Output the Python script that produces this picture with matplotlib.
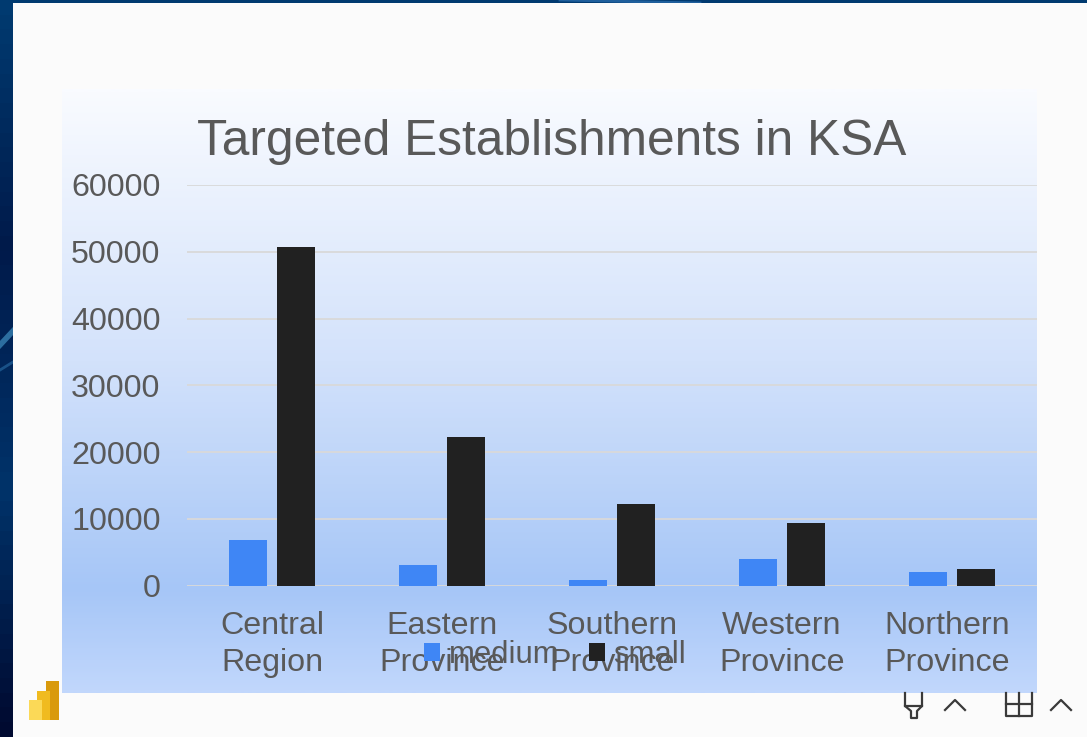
import numpy as np
import matplotlib
matplotlib.use('Agg')
import matplotlib.pyplot as plt
from matplotlib.patches import Rectangle
from matplotlib.colors import LinearSegmentedColormap
from matplotlib.transforms import ScaledTranslation

categories = ['Central\nRegion', 'Eastern\nProvince', 'Southern\nProvince', 'Western\nProvince', 'Northern\nProvince']
medium = [6800, 3100, 800, 4000, 2000]
small = [50700, 22250, 12200, 9400, 2500]
yticks = [0, 10000, 20000, 30000, 40000, 50000, 60000]
title = 'Targeted Establishments in KSA'

W, H = 1087, 737
plt.rcParams['font.family'] = ['Liberation Sans', 'DejaVu Sans']
grey = '#595959'

fig = plt.figure(figsize=(W/100, H/100), dpi=100)

# fond : tout en pixels
bg = fig.add_axes([0, 0, 1, 1])
bg.axis('off')

dark = LinearSegmentedColormap.from_list('dark', ['#003a70', '#001a4a', '#00336a', '#000a30'])
bg.imshow(np.linspace(0, 1, 50).reshape(-1, 1), extent=[0, W, H, 0], cmap=dark, aspect='auto', zorder=0)
bg.plot([0, 13], [345, 331], color='#3f8fc0', lw=4, alpha=0.7, zorder=1)
bg.plot([0, 13], [370, 362], color='#2a70a8', lw=2, alpha=0.6, zorder=1)
bg.plot([560, 700], [0, 3], color='#2d6fb0', lw=2, alpha=0.7, zorder=1)
bg.add_patch(Rectangle((13, 3), W-13, H-3, color='#fbfbfb', lw=0, zorder=2))

panel = LinearSegmentedColormap.from_list('panel', [(0, '#f9fbff'), (0.45, '#d3e2fb'), (0.83, '#a6c6f7'), (1, '#c1d7fc')])
bg.imshow(np.linspace(0, 1, 300).reshape(-1, 1), extent=[62, 1037, 693, 89], cmap=panel, aspect='auto', zorder=3)

# logo
logo = [(46, 681, 13, 39, '#d99a0c'), (37, 691, 13, 29, '#f0bb20'), (29, 700, 13, 20, '#fbd957')]
for x, y, w, h, c in logo:
    bg.add_patch(Rectangle((x, y), w, h, color=c, lw=0, zorder=4))

# icones en bas a droite
ic = '#3a3a3a'
bg.plot([905, 905, 911, 911, 917, 917, 922, 922], [693, 706, 711, 718, 718, 711, 706, 693], color=ic, lw=1.6, zorder=4)
bg.plot([905, 922], [706, 706], color=ic, lw=1.6, zorder=4)
bg.plot([945, 955, 965], [710, 700, 710], color=ic, lw=1.6, zorder=4)
bg.plot([1006, 1006, 1032, 1032], [693, 716, 716, 693], color=ic, lw=1.6, zorder=4)
bg.plot([1006, 1032], [704, 704], color=ic, lw=1.6, zorder=4)
bg.plot([1019, 1019], [693, 716], color=ic, lw=1.6, zorder=4)
bg.plot([1051, 1061, 1071], [710, 700, 710], color=ic, lw=1.6, zorder=4)
bg.set_xlim(0, W)
bg.set_ylim(H, 0)

# graphique
ax = fig.add_axes([187/W, 1-585.5/H, 850/W, 400.5/H])
ax.patch.set_alpha(0)
x = np.arange(len(categories))
ax.bar(x-0.141, medium, 0.2235, color='#3f86f5', label='medium', zorder=3)
ax.bar(x+0.141, small, 0.2235, color='#212121', label='small', zorder=3)
ax.set_xlim(-0.5, 4.5)
ax.set_ylim(0, 60000)
ax.set_yticks(yticks)
ax.set_xticks(x)
ax.set_xticklabels(categories, linespacing=1.32)
ax.tick_params(axis='both', length=0, labelsize=23.2, labelcolor=grey)
ax.tick_params(axis='y', pad=19)
ax.tick_params(axis='x', pad=18)
ax.grid(axis='y', color='#d9d9d9', lw=1.3, zorder=0)
for s in ax.spines.values():
    s.set_visible(False)
ax.set_axisbelow(True)

# le dernier label est decale vers la gauche dans l'original
last = ax.get_xticklabels()[-1]
last.set_transform(last.get_transform() + ScaledTranslation(-5/100, 0, fig.dpi_scale_trans))

fig.text(197/W, 1-142/H, title, fontsize=35.7, color=grey, va='center', ha='left')

ax.legend(loc='center', bbox_to_anchor=(555/W, 1-655/H), bbox_transform=fig.transFigure, ncol=2, frameon=False,
          fontsize=22.4, labelcolor=grey, handlelength=0.52, handleheight=0.52, handletextpad=0.28,
          columnspacing=0.95, borderpad=0)

fig.savefig('out.png', dpi=100)
